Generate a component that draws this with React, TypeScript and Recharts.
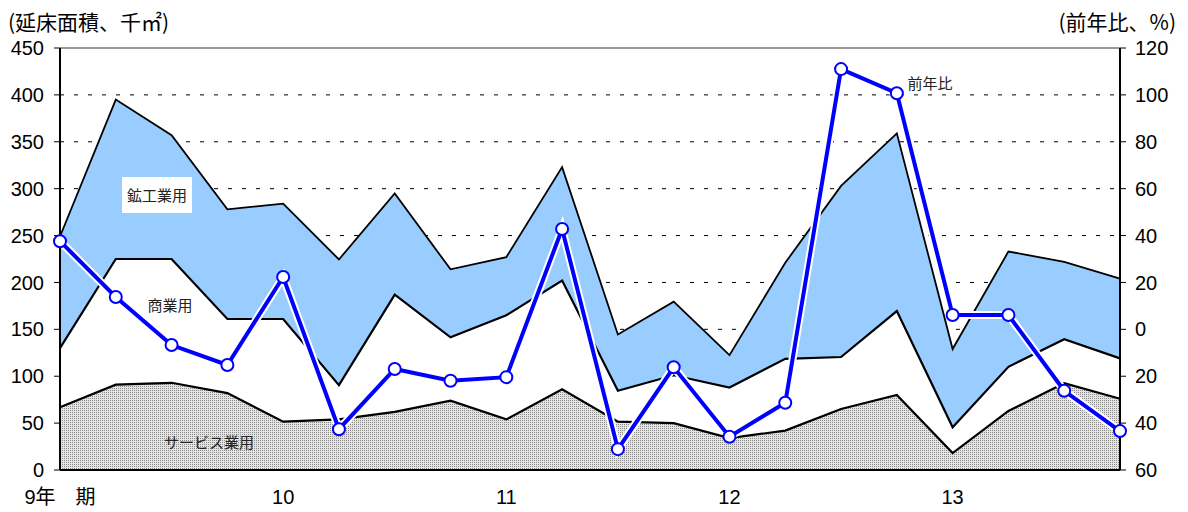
import React from 'react';
import {
  ComposedChart, Area, Line, XAxis, YAxis, CartesianGrid, ReferenceLine,
} from 'recharts';

// quarter index 0..19 (平成9年 I期 ～ 13年 IV期)
const quarterIndex = [0, 1, 2, 3, 4, 5, 6, 7, 8, 9, 10, 11, 12, 13, 14, 15, 16, 17, 18, 19];
const xTickPositions = [0, 4, 8, 12, 16];
const xTickLabels = ['9年\u3000期', '10', '11', '12', '13'];

// 延床面積（千㎡）
const serviceUse = [67, 91, 93, 82, 51.5, 54, 62, 74, 54, 86, 51.5, 50, 34, 42, 65, 80, 18, 63, 92.5, 76];
const commercialUse = [63, 134, 132, 79, 109.5, 36.5, 125, 67.5, 111, 116, 33, 51, 54, 76.5, 55.5, 89.5, 27.5, 47, 47, 43];
const miningUse = [119, 170, 132, 117, 123, 134, 108, 72.5, 62, 121, 60, 78.5, 34.5, 102.5, 182.5, 189.5, 83.5, 123, 82.5, 85];

// 前年比（%）
const yoyChange = [37.6, 13.8, -6.7, -15.2, 22.3, -42.6, -16.9, -21.9, -20.4, 42.8, -51.1, -16.2, -45.8, -31.3, 111, 100.7, 6.1, 6.1, -26.2, -43.4];

const leftTicks = [0, 50, 100, 150, 200, 250, 300, 350, 400, 450];
const rightTicks = [-60, -40, -20, 0, 20, 40, 60, 80, 100, 120];

const data = quarterIndex.map((q, i) => ({
  q,
  service: serviceUse[i],
  commercial: commercialUse[i],
  mining: miningUse[i],
  // cumulative boundaries, used only for the black outline strokes
  edge1: serviceUse[i],
  edge2: serviceUse[i] + commercialUse[i],
  edge3: serviceUse[i] + commercialUse[i] + miningUse[i],
  yoy: yoyChange[i],
}));

const FONT = "'Liberation Sans', Arial, 'Noto Sans CJK JP', sans-serif";
const JP = "'Noto Sans CJK JP', 'Liberation Sans', sans-serif";

const XTick = (props: any) => {
  const { x, y, payload } = props;
  const idx = xTickPositions.indexOf(payload.value);
  const label = idx >= 0 ? xTickLabels[idx] : '';
  return (
    <text x={x} y={y} dy={26} textAnchor="middle" fontSize={20} fill="#000"
      fontFamily={FONT} style={{ whiteSpace: 'pre' }}>
      {label}
    </text>
  );
};

export default function App() {
  return (
    <div style={{ position: 'absolute', left: 0, top: 0, width: 1188, height: 512, background: '#fff', fontFamily: JP }}>
      <ComposedChart width={1188} height={512} data={data}
        margin={{ top: 48, right: 0, bottom: 0, left: 0 }}>
        <defs>
          <pattern id="stipple" width="2" height="2" patternUnits="userSpaceOnUse">
            <rect width="2" height="2" fill="#e4e4e4" />
            <rect width="1" height="1" fill="#8a8a8a" />
          </pattern>
        </defs>
        <CartesianGrid yAxisId="left" vertical={false} horizontal stroke="#000"
          strokeDasharray="4 10" strokeWidth={1} />
        <XAxis dataKey="q" type="number" domain={[0, 19]} ticks={xTickPositions}
          height={42} tickLine={false} axisLine={{ stroke: '#000', strokeWidth: 2 }}
          tick={<XTick />} interval={0} allowDecimals={false} />
        <YAxis yAxisId="left" orientation="left" domain={[0, 450]} ticks={leftTicks}
          width={60} tickSize={6} tickMargin={10} interval={0}
          axisLine={{ stroke: '#000', strokeWidth: 2 }} tickLine={{ stroke: '#000' }}
          tick={{ fontSize: 20, fill: '#000', fontFamily: FONT }} />
        <YAxis yAxisId="right" orientation="right" domain={[-60, 120]} ticks={rightTicks}
          width={68} tickSize={6} tickMargin={9} interval={0}
          tickFormatter={(v: number) => String(Math.abs(v))}
          axisLine={{ stroke: '#000', strokeWidth: 2 }} tickLine={{ stroke: '#000' }}
          tick={{ fontSize: 20, fill: '#000', fontFamily: FONT }} />
        <Area yAxisId="left" type="linear" dataKey="service" stackId="a"
          fill="url(#stipple)" fillOpacity={1} stroke="none"
          isAnimationActive={false} dot={false} activeDot={false} />
        <Area yAxisId="left" type="linear" dataKey="commercial" stackId="a"
          fill="#ffffff" fillOpacity={1} stroke="none"
          isAnimationActive={false} dot={false} activeDot={false} />
        <Area yAxisId="left" type="linear" dataKey="mining" stackId="a"
          fill="#99ccff" fillOpacity={1} stroke="none"
          isAnimationActive={false} dot={false} activeDot={false} />
        <Line yAxisId="left" type="linear" dataKey="edge1" stroke="#000" strokeWidth={2.2}
          dot={false} activeDot={false} isAnimationActive={false} />
        <Line yAxisId="left" type="linear" dataKey="edge2" stroke="#000" strokeWidth={2.2}
          dot={false} activeDot={false} isAnimationActive={false} />
        <Line yAxisId="left" type="linear" dataKey="edge3" stroke="#000" strokeWidth={1.8}
          dot={false} activeDot={false} isAnimationActive={false} />
        <ReferenceLine yAxisId="left" y={450} stroke="#999" strokeWidth={2} />
        <Line yAxisId="right" type="linear" dataKey="yoy" stroke="#ffffff" strokeWidth={8}
          dot={false} activeDot={false} isAnimationActive={false} />
        <Line yAxisId="right" type="linear" dataKey="yoy" stroke="#0000ff" strokeWidth={4}
          dot={{ r: 6, fill: '#ffffff', stroke: '#0000ff', strokeWidth: 2 }}
          activeDot={false} isAnimationActive={false} />
      </ComposedChart>

      <div style={{ position: 'absolute', left: 8, top: 7, fontSize: 21, lineHeight: '28px', color: '#000', whiteSpace: 'nowrap' }}>
        (延床面積、千㎡)
      </div>
      <div style={{ position: 'absolute', right: 12, top: 7, fontSize: 21, lineHeight: '28px', color: '#000', whiteSpace: 'nowrap' }}>
        (前年比、%)
      </div>
      <div style={{ position: 'absolute', left: 122, top: 177, width: 70, height: 36, background: '#fff', fontSize: 15, lineHeight: '36px', textAlign: 'center', color: '#222' }}>
        鉱工業用
      </div>
      <div style={{ position: 'absolute', left: 140, top: 294, width: 60, fontSize: 15, lineHeight: '22px', textAlign: 'center', color: '#222' }}>
        商業用
      </div>
      <div style={{ position: 'absolute', left: 158, top: 431, width: 102, fontSize: 15, lineHeight: '22px', textAlign: 'center', color: '#222' }}>
        サービス業用
      </div>
      <div style={{ position: 'absolute', left: 900, top: 72, width: 60, fontSize: 15, lineHeight: '22px', textAlign: 'center', color: '#222' }}>
        前年比
      </div>
    </div>
  );
}
